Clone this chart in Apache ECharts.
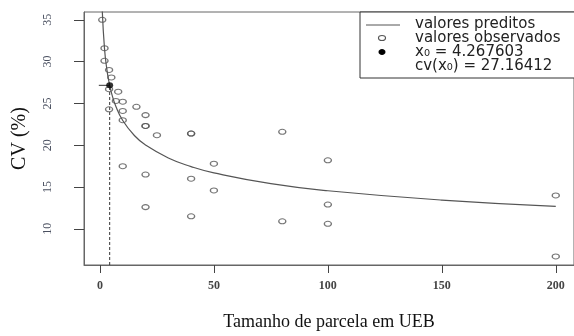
<!DOCTYPE html>
<html>
<head>
<meta charset="utf-8">
<script src="https://cdn.jsdelivr.net/npm/echarts@6/dist/echarts.min.js"></script>
<style>
  html, body { margin: 0; padding: 0; background: #fff; }
  #chart { width: 574px; height: 336px; }
</style>
</head>
<body>
<div id="chart"></div>
<script>
// observed points (plot size in UEB, CV %)
const obsX = [1, 2, 2, 4, 5, 4, 8, 7, 10, 4, 10, 16, 20, 10, 20, 20, 25, 40, 40, 80,
              10, 20, 20, 50, 40, 50, 40, 100, 100, 80, 100, 200, 200];
const obsY = [35.0, 31.6, 30.1, 29.0, 28.1, 26.7, 26.4, 25.3, 25.2, 24.3, 24.1, 24.6, 23.6, 23.0, 22.3, 22.3, 21.2, 21.4, 21.4, 21.6,
              17.5, 16.5, 12.6, 17.8, 16.0, 14.6, 11.5, 18.2, 12.9, 10.9, 10.6, 14.0, 6.7];

// predicted curve
const predX = [1, 2, 3, 4, 5, 7, 10, 15, 20, 30, 40, 50, 75, 100, 150, 200];
const predY = [36.2, 31.55, 29.13, 27.51, 26.33, 24.63, 22.96, 21.19, 20.02, 18.48, 17.45, 16.70, 15.41, 14.56, 13.44, 12.7];

// point of maximum curvature
const x0 = 4.267603;
const cvX0 = 27.16412;

const xTicks = [0, 50, 100, 150, 200];
const yTicks = [10, 15, 20, 25, 30, 35];

const xMin = -7, xMax = 208;
const yMin = 5.68, yMax = 35.93;

const chart = echarts.init(document.getElementById('chart'), null, { renderer: 'canvas' });

const axisColor = '#666';
const legendFont = '15px "DejaVu Sans"';

const option = {
    animation: false,
    backgroundColor: '#fff',
    grid: {
        left: 84,
        top: 12,
        right: -4,
        bottom: 65,
        show: true,
        borderColor: axisColor,
        borderWidth: 1
    },
    xAxis: {
        type: 'value',
        min: xMin,
        max: xMax,
        splitLine: { show: false },
        axisLine: { show: true, onZero: false, lineStyle: { color: axisColor } },
        axisTick: { show: true, inside: false, length: 8, customValues: xTicks, lineStyle: { color: '#444' } },
        axisLabel: {
            customValues: xTicks,
            margin: 15,
            color: '#444',
            fontFamily: 'Liberation Serif',
            fontWeight: 'bold',
            fontSize: 12
        },
        name: 'Tamanho de parcela em UEB',
        nameLocation: 'middle',
        nameGap: 48,
        nameTextStyle: { fontFamily: 'Liberation Serif', fontSize: 18, color: '#111' }
    },
    yAxis: {
        type: 'value',
        min: yMin,
        max: yMax,
        splitLine: { show: false },
        axisLine: { show: true, onZero: false, lineStyle: { color: axisColor } },
        axisTick: { show: true, inside: false, length: 10, customValues: yTicks, lineStyle: { color: '#444' } },
        axisLabel: {
            customValues: yTicks,
            rotate: 90,
            margin: 30,
            color: '#4a5060',
            fontFamily: 'Liberation Serif',
            fontSize: 12
        },
        name: 'CV (%)',
        nameLocation: 'middle',
        nameGap: 54,
        nameTextStyle: { fontFamily: 'Liberation Serif', fontSize: 20, color: '#111' }
    },
    series: [
        {
            name: 'valores preditos',
            type: 'line',
            data: predX.map((x, i) => [x, predY[i]]),
            smooth: true,
            showSymbol: false,
            clip: true,
            lineStyle: { color: '#555', width: 1.2 },
            z: 2
        },
        {
            name: 'x0 vertical',
            type: 'line',
            data: [[x0, yMin], [x0, cvX0]],
            showSymbol: false,
            lineStyle: { color: '#333', width: 1, type: [3, 2] },
            z: 2
        },
        {
            name: 'x0 mark',
            type: 'line',
            data: [[-0.5, cvX0], [x0, cvX0]],
            showSymbol: false,
            lineStyle: { color: '#333', width: 1 },
            z: 2
        },
        {
            name: 'valores observados',
            type: 'scatter',
            data: obsX.map((x, i) => [x, obsY[i]]),
            symbol: 'circle',
            symbolSize: [7, 5],
            itemStyle: { color: 'rgba(255,255,255,0)', borderColor: '#555', borderWidth: 1.2 },
            z: 3
        },
        {
            name: 'x0',
            type: 'scatter',
            data: [[x0, cvX0]],
            symbol: 'circle',
            symbolSize: [7, 6],
            itemStyle: { color: '#000' },
            z: 4
        }
    ],
    graphic: [
        {
            type: 'rect',
            shape: { x: 360, y: 12, width: 240, height: 66 },
            style: { fill: '#fff', stroke: '#333', lineWidth: 1 },
            z: 10
        },
        {
            type: 'line',
            shape: { x1: 366, y1: 25, x2: 400, y2: 25 },
            style: { stroke: '#555', lineWidth: 1 },
            z: 11
        },
        {
            type: 'ellipse',
            shape: { cx: 382, cy: 38, rx: 3.5, ry: 2.5 },
            style: { fill: '#fff', stroke: '#555', lineWidth: 1.2 },
            z: 11
        },
        {
            type: 'ellipse',
            shape: { cx: 382, cy: 52, rx: 3.5, ry: 3 },
            style: { fill: '#000' },
            z: 11
        },
        {
            type: 'text',
            x: 415, y: 24,
            style: { text: 'valores preditos', font: legendFont, fill: '#222', verticalAlign: 'middle' },
            z: 11
        },
        {
            type: 'text',
            x: 415, y: 38,
            style: { text: 'valores observados', font: legendFont, fill: '#222', verticalAlign: 'middle' },
            z: 11
        },
        {
            type: 'text',
            x: 415, y: 52,
            style: { text: 'x₀ = 4.267603', font: legendFont, fill: '#222', verticalAlign: 'middle' },
            z: 11
        },
        {
            type: 'text',
            x: 415, y: 66,
            style: { text: 'cv(x₀) = 27.16412', font: legendFont, fill: '#222', verticalAlign: 'middle' },
            z: 11
        }
    ]
};

chart.setOption(option);
</script>
</body>
</html>
